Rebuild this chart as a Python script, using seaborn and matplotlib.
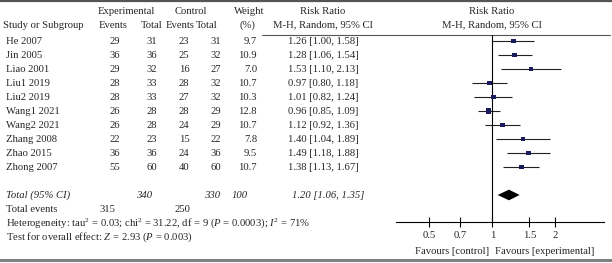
import pandas as pd
import matplotlib.pyplot as plt
from matplotlib.ticker import NullLocator
import seaborn as sns

# studies in the meta-analysis
studies = ['He 2007', 'Jin 2005', 'Liao 2001', 'Liu1 2019', 'Liu2 2019',
           'Wang1 2021', 'Wang2 2021', 'Zhang 2008', 'Zhao 2015', 'Zhong 2007']
exp_events = [29, 36, 29, 28, 28, 26, 26, 22, 36, 55]
exp_total = [31, 36, 32, 33, 33, 28, 28, 23, 36, 60]
ctl_events = [23, 25, 16, 28, 27, 28, 24, 15, 24, 40]
ctl_total = [31, 32, 27, 32, 32, 29, 29, 22, 36, 60]
weight = [9.7, 10.9, 7.0, 10.7, 10.3, 12.8, 10.7, 7.8, 9.5, 10.7]
rr = [1.26, 1.28, 1.53, 0.97, 1.01, 0.96, 1.12, 1.40, 1.49, 1.38]
rr_lo = [1.00, 1.06, 1.10, 0.80, 0.82, 0.85, 0.92, 1.04, 1.18, 1.13]
rr_hi = [1.58, 1.54, 2.13, 1.18, 1.24, 1.09, 1.36, 1.89, 1.88, 1.67]

# pooled result
total_exp, total_ctl, total_weight = 340, 330, 100
events_exp, events_ctl = 315, 250
pooled_rr, pooled_lo, pooled_hi = 1.20, 1.06, 1.35
xticks = [0.5, 0.7, 1, 1.5, 2]

sns.set_style('white')
plt.rcParams['font.family'] = ['Liberation Serif', 'DejaVu Serif']
plt.rcParams['mathtext.fontset'] = 'custom'
plt.rcParams['mathtext.rm'] = 'Liberation Serif'
plt.rcParams['mathtext.it'] = 'Liberation Serif:italic'
fs = 7.7

W, H = 612, 263
fig = plt.figure(figsize=(W / 100, H / 100), dpi=100)

# background axes in pixel units for the table part
bg = fig.add_axes([0, 0, 1, 1])
bg.set_xlim(0, W)
bg.set_ylim(H, 0)
bg.axis('off')


def row_y(i):
    return 41 + 14 * i


# header
hdr1, hdr2 = 11, 25
bg.text(126, hdr1, 'Experimental', ha='center', va='center', fontsize=fs)
bg.text(191, hdr1, 'Control', ha='center', va='center', fontsize=fs)
bg.text(249, hdr1, 'Weight', ha='center', va='center', fontsize=fs)
bg.text(323, hdr1, 'Risk Ratio', ha='center', va='center', fontsize=fs)
bg.text(492, hdr1, 'Risk Ratio', ha='center', va='center', fontsize=fs)
bg.text(3, hdr2, 'Study or Subgroup', ha='left', va='center', fontsize=fs)
for x, t in [(113, 'Events'), (152, 'Total'), (180, 'Events'), (207, 'Total'),
             (247, '(%)'), (323, 'M-H, Random, 95% CI'), (492, 'M-H, Random, 95% CI')]:
    bg.text(x, hdr2, t, ha='center', va='center', fontsize=fs)

# study rows
for i, s in enumerate(studies):
    y = row_y(i)
    bg.text(6, y, s, ha='left', va='center', fontsize=fs)
    bg.text(115, y, str(exp_events[i]), ha='center', va='center', fontsize=fs)
    bg.text(152, y, str(exp_total[i]), ha='center', va='center', fontsize=fs)
    bg.text(184, y, str(ctl_events[i]), ha='center', va='center', fontsize=fs)
    bg.text(216, y, str(ctl_total[i]), ha='center', va='center', fontsize=fs)
    bg.text(257, y, f'{weight[i]:.1f}', ha='right', va='center', fontsize=fs)
    bg.text(323, y, f'{rr[i]:.2f} [{rr_lo[i]:.2f}, {rr_hi[i]:.2f}]',
            ha='center', va='center', fontsize=fs)

# totals
yt = row_y(11)
bg.text(6, yt, 'Total (95% CI)', ha='left', va='center', fontsize=fs, style='italic')
bg.text(144, yt, str(total_exp), ha='center', va='center', fontsize=fs, style='italic')
bg.text(212, yt, str(total_ctl), ha='center', va='center', fontsize=fs, style='italic')
bg.text(240, yt, str(total_weight), ha='center', va='center', fontsize=fs, style='italic')
bg.text(328, yt, f'{pooled_rr:.2f} [{pooled_lo:.2f}, {pooled_hi:.2f}]',
        ha='center', va='center', fontsize=fs, style='italic')
bg.text(6, row_y(12), 'Total events', ha='left', va='center', fontsize=fs)
bg.text(107, row_y(12), str(events_exp), ha='center', va='center', fontsize=fs)
bg.text(182, row_y(12), str(events_ctl), ha='center', va='center', fontsize=fs)
bg.text(6, row_y(13), r'Heterogeneity: tau$^2$ = 0.03; chi$^2$ = 31.22, df = 9 ($P$ = 0.0003); $I^2$ = 71%',
        ha='left', va='center', fontsize=fs)
bg.text(6, row_y(14), r'Test for overall effect: $Z$ = 2.93 ($P$ = 0.003)',
        ha='left', va='center', fontsize=fs)

bg.text(489, 252, 'Favours [control]', ha='right', va='center', fontsize=fs)
bg.text(495, 252, 'Favours [experimental]', ha='left', va='center', fontsize=fs)

# rules
bg.plot([0, W], [1, 1], color='#555555', lw=1.6, clip_on=False)
bg.plot([0, W], [260, 260], color='#808080', lw=2.2, clip_on=False)
bg.plot([262, 610], [35, 35], color='#555555', lw=0.8)

# forest panel
ax = fig.add_axes([396 / W, 1 - 222 / H, (604 - 396) / W, (222 - 35) / H])
ax.patch.set_alpha(0)
df = pd.DataFrame({'study': studies, 'rr': rr, 'lo': rr_lo, 'hi': rr_hi,
                   'weight': weight, 'row': range(len(studies))})
ax.hlines(df['row'], df['lo'], df['hi'], color='#222222', lw=0.8)
sns.scatterplot(data=df, x='rr', y='row', size='weight', sizes=(7, 14), marker='s',
                color='#1a1a5e', edgecolor='none', legend=False, ax=ax, zorder=3)
ax.fill([pooled_lo, pooled_rr, pooled_hi, pooled_rr], [11, 11 - 0.38, 11, 11 + 0.38],
        color='black', lw=0)
ax.axvline(1, color='black', lw=0.8)

ax.set_xscale('log')
ax.set_xlim(0.347, 3.41)
ax.set_ylim(12.93, -0.43)
ax.set_xticks(xticks)
ax.set_xticklabels([f'{t:g}' for t in xticks])
ax.xaxis.set_minor_locator(NullLocator())
ax.set_yticks([])
ax.set_xlabel('')
ax.set_ylabel('')
for side in ['top', 'right', 'left']:
    ax.spines[side].set_visible(False)
ax.spines['bottom'].set_color('black')
ax.spines['bottom'].set_linewidth(0.8)
ax.tick_params(axis='x', bottom=True, direction='inout', length=7, width=0.8,
               labelsize=fs, pad=3, color='black')

fig.savefig('out.png', dpi=100)
